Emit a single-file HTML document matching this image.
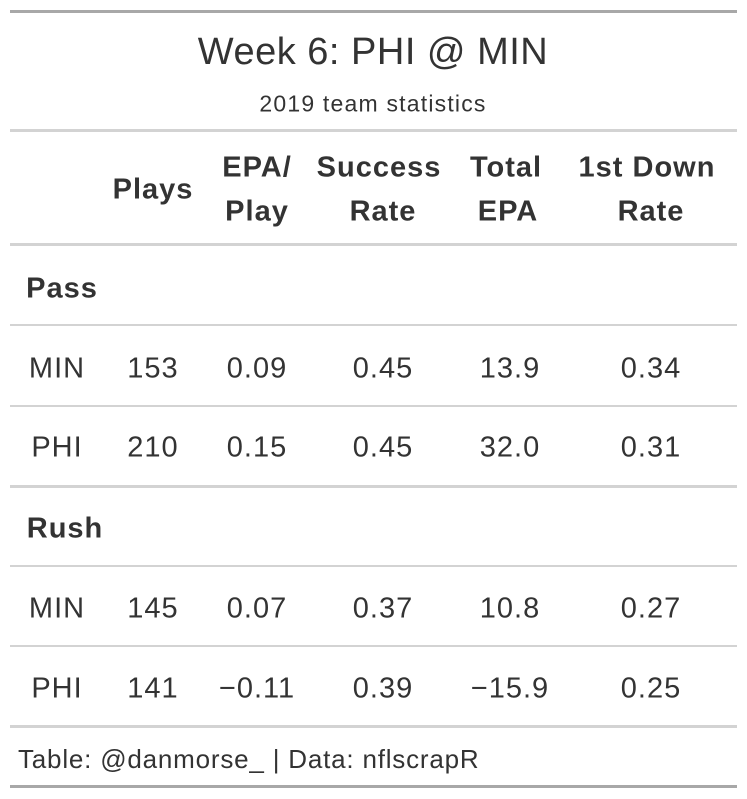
<!DOCTYPE html>
<html><head><meta charset="utf-8"><style>
body{margin:0;width:747px;height:799px;background:#fff;font-family:"Liberation Sans",sans-serif;color:#333;position:relative;overflow:hidden}
.l{position:absolute;left:10px;width:727px}
.t{position:absolute;white-space:nowrap;transform:translate(-50%,-50%);line-height:1}
.b{font-weight:bold;letter-spacing:0.8px}
.d{font-size:29px;letter-spacing:1px}
</style></head><body>
<div class="l" style="top:10px;height:3px;background:#a8a8a8"></div>
<div class="l" style="top:129px;height:3px;background:#d3d3d3"></div>
<div class="l" style="top:243px;height:3px;background:#d3d3d3"></div>
<div class="l" style="top:324px;height:2px;background:#d3d3d3"></div>
<div class="l" style="top:405px;height:2px;background:#d3d3d3"></div>
<div class="l" style="top:485px;height:3px;background:#d3d3d3"></div>
<div class="l" style="top:565px;height:2px;background:#d3d3d3"></div>
<div class="l" style="top:645px;height:2px;background:#d3d3d3"></div>
<div class="l" style="top:725px;height:3px;background:#d3d3d3"></div>
<div class="l" style="top:785px;height:3px;background:#a8a8a8"></div>

<div class="t" style="left:373px;top:52px;font-size:38px;letter-spacing:0.5px">Week 6: PHI @ MIN</div>
<div class="t" style="left:373px;top:104px;font-size:23px;letter-spacing:1.2px">2019 team statistics</div>

<div class="t b d" style="left:153px;top:190px">Plays</div>
<div class="t b d" style="left:257px;top:168px">EPA/</div>
<div class="t b d" style="left:257px;top:212px">Play</div>
<div class="t b d" style="left:379px;top:168px">Success</div>
<div class="t b d" style="left:383px;top:212px">Rate</div>
<div class="t b d" style="left:506px;top:168px">Total</div>
<div class="t b d" style="left:508px;top:212px">EPA</div>
<div class="t b d" style="left:647px;top:168px">1st Down</div>
<div class="t b d" style="left:651px;top:212px">Rate</div>

<div class="t b d" style="left:62px;top:289px">Pass</div>
<div class="t b d" style="left:65px;top:529px">Rush</div>

<div class="t d" style="left:57px;top:369px">MIN</div><div class="t d" style="left:153px;top:369px">153</div><div class="t d" style="left:257px;top:369px">0.09</div><div class="t d" style="left:383px;top:369px">0.45</div><div class="t d" style="left:510px;top:369px">13.9</div><div class="t d" style="left:651px;top:369px">0.34</div>
<div class="t d" style="left:57px;top:448px">PHI</div><div class="t d" style="left:153px;top:448px">210</div><div class="t d" style="left:257px;top:448px">0.15</div><div class="t d" style="left:383px;top:448px">0.45</div><div class="t d" style="left:510px;top:448px">32.0</div><div class="t d" style="left:651px;top:448px">0.31</div>
<div class="t d" style="left:57px;top:609px">MIN</div><div class="t d" style="left:153px;top:609px">145</div><div class="t d" style="left:257px;top:609px">0.07</div><div class="t d" style="left:383px;top:609px">0.37</div><div class="t d" style="left:510px;top:609px">10.8</div><div class="t d" style="left:651px;top:609px">0.27</div>
<div class="t d" style="left:57px;top:689px">PHI</div><div class="t d" style="left:153px;top:689px">141</div><div class="t d" style="left:257px;top:689px">−0.11</div><div class="t d" style="left:383px;top:689px">0.39</div><div class="t d" style="left:510px;top:689px">−15.9</div><div class="t d" style="left:651px;top:689px">0.25</div>

<div style="position:absolute;left:18px;top:745px;font-size:26px;line-height:28px;white-space:nowrap;letter-spacing:0.8px">Table: @danmorse_ | Data: nflscrapR</div>
</body></html>
